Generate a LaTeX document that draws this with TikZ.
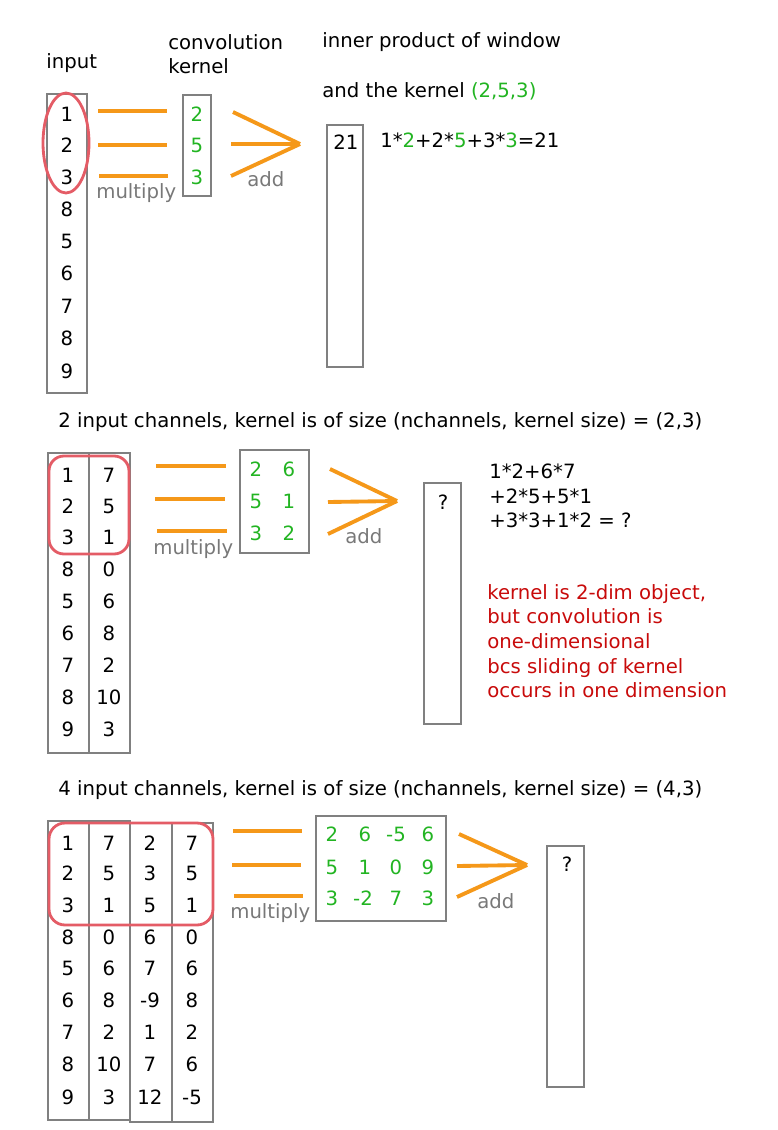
\documentclass[tikz,border=0pt]{standalone}
\usepackage{fontspec}
\setmainfont{DejaVu Sans}
\definecolor{boxgray}{RGB}{128,128,128}
\definecolor{kgreen}{RGB}{34,180,34}
\definecolor{barorange}{RGB}{245,152,25}
\definecolor{winred}{RGB}{228,92,102}
\definecolor{notered}{RGB}{200,10,10}
\definecolor{labgray}{RGB}{120,120,120}

\begin{document}
\begin{tikzpicture}[x=0.02cm,y=-0.02cm,every node/.style={font=\fontsize{11.2}{14}\selectfont,inner sep=0pt},
  box/.style={draw=boxgray,line width=.9pt},
  bar/.style={draw=barorange,line width=2.2pt},
  win/.style={draw=winred,line width=1.6pt},
  kern/.style={text=kgreen},
  lbl/.style={text=labgray}]
\useasboundingbox (0,0) rectangle (778,1130);

% one input channel
\node[anchor=base west] (inlbl) at (46,68) {input};
\node[anchor=north west,align=left] (klbl) at (168,34) {convolution\\kernel};
\node[anchor=base west] (iplbl) at (322,47) {inner product of window};
\node[anchor=base west] (iplblb) at (322,97) {and the kernel \textcolor{kgreen}{(2,5,3)}};
\draw[box] (47,94) rectangle (87,393);
\node (x1) at (67,114) {1};\node (x2) at (67,145) {2};\node (x3) at (67,177) {3};
\node (x4) at (67,209) {8};\node (x5) at (67,241) {5};\node (x6) at (67,273) {6};
\node (x7) at (67,306) {7};\node (x8) at (67,338) {8};\node (x9) at (67,371) {9};
\draw[win] (66,143) ellipse [x radius=0.46cm,y radius=1cm];
\coordinate (m1) at (98,111);\coordinate (n1) at (167,111);
\coordinate (m2) at (98,145);\coordinate (n2) at (167,145);
\coordinate (m3) at (99,176);\coordinate (n3) at (168,176);
\draw[bar] (m1)--(n1);\draw[bar] (m2)--(n2);\draw[bar] (m3)--(n3);
\node[lbl,anchor=base west] (mul) at (96,198) {multiply};
\draw[box] (183,95) rectangle (211,196);
\node[kern] (w1) at (197,114) {2};\node[kern] (w2) at (197,145) {5};\node[kern] (w3) at (197,177) {3};
\coordinate (s1) at (233,112);\coordinate (s2) at (231,144);\coordinate (s3) at (231,176);
\coordinate (tip) at (300,144);
\draw[bar] (s1)--(tip);\draw[bar] (s2)--(tip);\draw[bar] (s3)--(tip);
\node[lbl,anchor=base west] (add) at (247,186) {add};
\draw[box] (327,125) rectangle (363,367);
\node (y1) at (346,142) {21};
\node[anchor=base west] (eq) at (380,147) {1*\textcolor{kgreen}{2}+2*\textcolor{kgreen}{5}+3*\textcolor{kgreen}{3}=21};

% two input channels
\node[anchor=base west] (headb) at (58,427) {2 input channels, kernel is of size (nchannels, kernel size) = (2,3)};
\draw[box] (48,453) rectangle (89,753);
\draw[box] (89,453) rectangle (130,753);
\node (xa1) at (68,475) {1};\node (xa2) at (68,506) {2};\node (xa3) at (68,537) {3};
\node (xa4) at (68,569) {8};\node (xa5) at (68,601) {5};\node (xa6) at (68,633) {6};
\node (xa7) at (68,665) {7};\node (xa8) at (68,697) {8};\node (xa9) at (68,729) {9};
\node (xb1) at (109,475) {7};\node (xb2) at (109,506) {5};\node (xb3) at (109,537) {1};
\node (xb4) at (109,569) {0};\node (xb5) at (109,601) {6};\node (xb6) at (109,633) {8};
\node (xb7) at (109,665) {2};\node (xb8) at (109,697) {10};\node (xb9) at (109,729) {3};
\draw[win,rounded corners=0.3cm] (49,456) rectangle (129,554);
\coordinate (ma1) at (156,466);\coordinate (na1) at (226,466);
\coordinate (ma2) at (155,499);\coordinate (na2) at (225,499);
\coordinate (ma3) at (157,531);\coordinate (na3) at (227,531);
\draw[bar] (ma1)--(na1);\draw[bar] (ma2)--(na2);\draw[bar] (ma3)--(na3);
\node[lbl,anchor=base west] (mulb) at (153,554) {multiply};
\draw[box] (240,450) rectangle (309,553);
\node[kern] (wa1) at (256,469) {2};\node[kern] (wb1) at (289,469) {6};
\node[kern] (wa2) at (256,501) {5};\node[kern] (wb2) at (289,501) {1};
\node[kern] (wa3) at (256,533) {3};\node[kern] (wb3) at (289,533) {2};
\coordinate (sa1) at (330,469);\coordinate (sa2) at (328,502);\coordinate (sa3) at (328,534);
\coordinate (tipb) at (397,501);
\draw[bar] (sa1)--(tipb);\draw[bar] (sa2)--(tipb);\draw[bar] (sa3)--(tipb);
\node[lbl,anchor=base west] (addb) at (345,543) {add};
\draw[box] (424,483) rectangle (461,724);
\node (yb1) at (443,502) {?};
\node[anchor=north west,align=left] (eqb) at (489,463.5) {1*2+6*7\\+2*5+5*1\\+3*3+1*2 = ?};
\node[anchor=north west,align=left,text=notered] (rem) at (487,584)
  {kernel is 2-dim object,\\but convolution is\\one-dimensional\\bcs sliding of kernel\\occurs in one dimension};

% four input channels
\node[anchor=base west] (headc) at (58,795) {4 input channels, kernel is of size (nchannels, kernel size) = (4,3)};
\draw[box] (48,821) rectangle (89,1120);
\draw[box] (89,821) rectangle (130,1120);
\draw[box] (130,823) rectangle (172,1122);
\draw[box] (172,823) rectangle (213,1122);
\node (xc1) at (68,843) {1};\node (xc2) at (68,873) {2};\node (xc3) at (68,905) {3};
\node (xc4) at (68,937) {8};\node (xc5) at (68,968) {5};\node (xc6) at (68,1000) {6};
\node (xc7) at (68,1032) {7};\node (xc8) at (68,1064) {8};\node (xc9) at (68,1097) {9};
\node (xd1) at (109,843) {7};\node (xd2) at (109,873) {5};\node (xd3) at (109,905) {1};
\node (xd4) at (109,937) {0};\node (xd5) at (109,968) {6};\node (xd6) at (109,1000) {8};
\node (xd7) at (109,1032) {2};\node (xd8) at (109,1064) {10};\node (xd9) at (109,1097) {3};
\node (xe1) at (150,843) {2};\node (xe2) at (150,873) {3};\node (xe3) at (150,905) {5};
\node (xe4) at (150,937) {6};\node (xe5) at (150,968) {7};\node (xe6) at (150,1000) {-9};
\node (xe7) at (150,1032) {1};\node (xe8) at (150,1064) {7};\node (xe9) at (150,1097) {12};
\node (xf1) at (192,843) {7};\node (xf2) at (192,873) {5};\node (xf3) at (192,905) {1};
\node (xf4) at (192,937) {0};\node (xf5) at (192,968) {6};\node (xf6) at (192,1000) {8};
\node (xf7) at (192,1032) {2};\node (xf8) at (192,1064) {6};\node (xf9) at (192,1097) {-5};
\draw[win,rounded corners=0.32cm] (49,823) rectangle (213,925);
\coordinate (mc1) at (233,831);\coordinate (nc1) at (302,831);
\coordinate (mc2) at (232,865);\coordinate (nc2) at (301,865);
\coordinate (mc3) at (234,896);\coordinate (nc3) at (303,896);
\draw[bar] (mc1)--(nc1);\draw[bar] (mc2)--(nc2);\draw[bar] (mc3)--(nc3);
\node[lbl,anchor=base west] (mulc) at (230,918) {multiply};
\draw[box] (316,816) rectangle (446,921);
\node[kern] (wc1) at (332,834) {2};\node[kern] (wd1) at (365,834) {6};\node[kern] (we1) at (396,834) {-5};\node[kern] (wf1) at (428,834) {6};
\node[kern] (wc2) at (332,867) {5};\node[kern] (wd2) at (365,867) {1};\node[kern] (we2) at (396,867) {0};\node[kern] (wf2) at (428,867) {9};
\node[kern] (wc3) at (332,898) {3};\node[kern] (wd3) at (363,898) {-2};\node[kern] (we3) at (396,898) {7};\node[kern] (wf3) at (428,898) {3};
\coordinate (sc1) at (459,834);\coordinate (sc2) at (457,866);\coordinate (sc3) at (457,897);
\coordinate (tipc) at (527,865);
\draw[bar] (sc1)--(tipc);\draw[bar] (sc2)--(tipc);\draw[bar] (sc3)--(tipc);
\node[lbl,anchor=base west] (addc) at (477,908) {add};
\draw[box] (547,846) rectangle (584,1087);
\node (yc1) at (567,864) {?};
\end{tikzpicture}
\end{document}
